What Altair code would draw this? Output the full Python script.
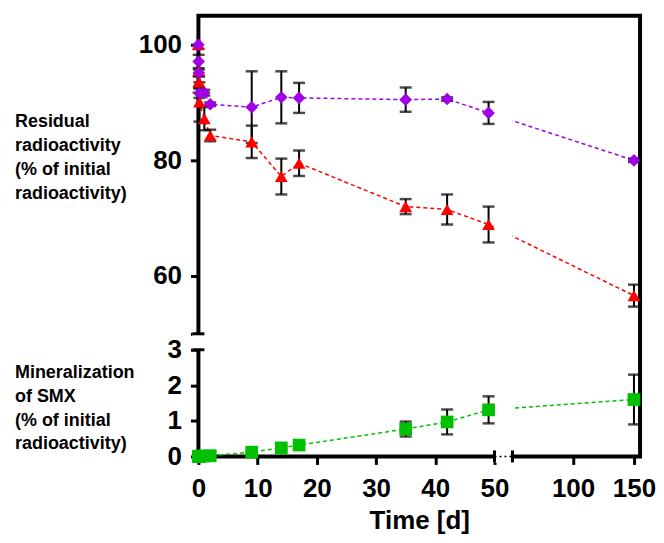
import altair as alt
import pandas as pd

# ---- data ----
days = [0, 0.04, 0.08, 0.17, 1, 2, 9, 14, 17, 35, 42, 49, 150]
residual_purple = [100, 97.1, 95.1, 91.6, 91.7, 89.7, 89.2, 90.9, 90.8, 90.5, 90.6, 88.2, 80.0]
residual_purple_sd = [0, 1.15, 0.6, 0.8, 0.5, 0.3, 6.2, 4.5, 2.6, 2.1, 0.3, 1.9, 0.3]
residual_red = [100, 95.5, 93.6, 90.1, 87.2, 84.3, 83.2, 77.2, 79.5, 72.0, 71.5, 68.9, 56.6]
residual_red_sd = [0, 3.8, 1.0, 3.4, 2.0, 1.0, 2.8, 3.1, 2.2, 1.3, 2.6, 3.1, 1.9]
mineral_green = [0, 0, 0, 0.01, 0.01, 0.02, 0.12, 0.24, 0.32, 0.77, 0.97, 1.31, 1.60]
mineral_green_sd = [0, 0, 0, 0, 0, 0, 0.03, 0.05, 0.05, 0.21, 0.35, 0.38, 0.70]

# drawing order: red first, then green, purple on top
series_names = ["Residual (red)", "Mineralization", "Residual (purple)"]
series_colors = ["#ff0000", "#00c000", "#a100e6"]
series_shapes = ["triangle-up", "square", "diamond"]
series_sizes = [165, 160, 135]

x_ticks = [0, 10, 20, 30, 40, 50, 100, 150]
y_ticks = [0, 1, 2, 3, 50, 60, 80, 100]
x_break = [50, 50.3]      # broken x axis: 0-50 | 50-155
y_break = [3, 50]         # broken y axis: 0-3 | 50-105

rows = []
for name, vals, sds in zip(series_names,
                           [residual_red, mineral_green, residual_purple],
                           [residual_red_sd, mineral_green_sd, residual_purple_sd]):
    for t, v, s in zip(days, vals, sds):
        rows.append(dict(series=name, day=t, value=v, sd=s))
df = pd.DataFrame(rows)

W, H = 443, 442
xscale = alt.Scale(domain=[0, x_break[0], x_break[1], 155], range=[0, 297, 315, W],
                   nice=False, zero=False)
yscale = alt.Scale(domain=[0, y_break[0], y_break[1], 105], range=[H, 335, 319, 0],
                   nice=False, zero=False)

FONT = "Liberation Sans"
xaxis = alt.Axis(values=x_ticks, domain=False, grid=False, tickSize=8, tickWidth=3,
                 tickColor="black", labelFont=FONT, labelFontSize=26, labelFontWeight="bold",
                 labelColor="black", labelPadding=11, labelFlush=False, labelOverlap=False,
                 title="Time [d]", titleFont=FONT, titleFontSize=26, titleFontWeight="bold",
                 titleColor="black", titlePadding=6)
yaxis = alt.Axis(values=y_ticks, domain=False, grid=False, tickSize=8, tickWidth=3,
                 tickColor="black", labelFont=FONT, labelFontSize=26, labelFontWeight="bold",
                 labelColor="black", labelPadding=9, labelOverlap=False,
                 labelExpr="datum.value == 50 ? '' : datum.label", title=None)

color = alt.Color("series:N", scale=alt.Scale(domain=series_names, range=series_colors), legend=None)

base = alt.Chart(df)
lines = base.mark_line(strokeWidth=1.5, strokeDash=[4, 3]).encode(
    x=alt.X("day:Q", scale=xscale, axis=xaxis),
    y=alt.Y("value:Q", scale=yscale, axis=yaxis),
    color=color,
    detail="series:N",
)

# white mask that breaks lines and bottom border across the x-axis break
xb = pd.DataFrame({"a": [x_break[0]], "b": [x_break[1]]})
xmask = alt.Chart(xb).mark_rect(color="white").encode(
    x=alt.X("a:Q", scale=xscale), x2="b:Q",
    y=alt.value(2.5), y2=alt.value(H + 6))

yb = pd.DataFrame({"a": [y_break[0]], "b": [y_break[1]]})
ymask = alt.Chart(yb).mark_rect(color="white").encode(
    y=alt.Y("a:Q", scale=yscale), y2="b:Q",
    x=alt.value(-6), x2=alt.value(6))

err = base.transform_filter("datum.sd > 0").transform_calculate(
    lo="datum.value - datum.sd", hi="datum.value + datum.sd")
err_rule = err.mark_rule(color="black", strokeWidth=2).encode(
    x=alt.X("day:Q", scale=xscale), y=alt.Y("lo:Q", scale=yscale), y2="hi:Q")
cap_lo = err.mark_tick(color="black", orient="horizontal", size=12, thickness=2.5).encode(
    x=alt.X("day:Q", scale=xscale), y=alt.Y("lo:Q", scale=yscale))
cap_hi = err.mark_tick(color="black", orient="horizontal", size=12, thickness=2.5).encode(
    x=alt.X("day:Q", scale=xscale), y=alt.Y("hi:Q", scale=yscale))

points = base.mark_point(filled=True, opacity=1, strokeWidth=0).encode(
    x=alt.X("day:Q", scale=xscale),
    y=alt.Y("value:Q", scale=yscale),
    color=color,
    shape=alt.Shape("series:N", scale=alt.Scale(domain=series_names, range=series_shapes), legend=None),
    size=alt.Size("series:N", scale=alt.Scale(domain=series_names, range=series_sizes), legend=None),
)

# break caps and dotted connector
xbk = pd.DataFrame({"v": x_break})
xcaps = alt.Chart(xbk).mark_rule(color="black", strokeWidth=3).encode(
    x=alt.X("v:Q", scale=xscale), y=alt.value(H - 6), y2=alt.value(H + 6))
xdots = alt.Chart(xb).mark_rule(color="black", strokeWidth=1.5, strokeDash=[2, 3]).encode(
    x=alt.X("a:Q", scale=xscale), x2="b:Q", y=alt.value(H))
ybk = pd.DataFrame({"v": y_break})
ycaps = alt.Chart(ybk).mark_rule(color="black", strokeWidth=3).encode(
    y=alt.Y("v:Q", scale=yscale), x=alt.value(-6), x2=alt.value(6))

# left-hand titles
titles = pd.DataFrame({
    "label": ["Residual\nradioactivity\n(% of initial\nradioactivity)",
              "Mineralization\nof SMX\n(% of initial\nradioactivity)"],
    "pos": [98, 349],
})
title_text = alt.Chart(titles).mark_text(
    lineBreak="\n", align="left", baseline="top", font=FONT, fontSize=18,
    fontWeight="bold", lineHeight=24, color="black").encode(
    text="label:N", x=alt.value(-184), y=alt.Y("pos:Q", scale=None))

chart = alt.layer(lines, xmask, ymask, err_rule, cap_lo, cap_hi, points,
                  xcaps, xdots, ycaps, title_text).properties(
    width=W, height=H,
    padding={"left": 7, "top": 7, "right": 0, "bottom": 0},
).configure_view(stroke="black", strokeWidth=4)

chart.save("out.html", embed_options={"renderer": "svg", "actions": False})
